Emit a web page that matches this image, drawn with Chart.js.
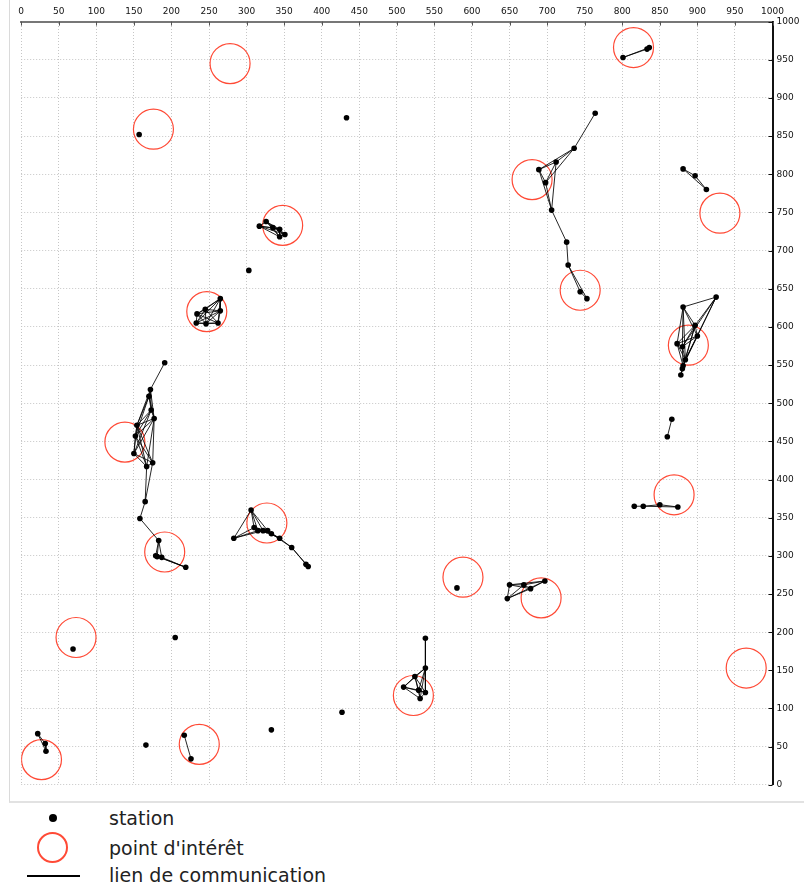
<!DOCTYPE html>
<html>
<head>
<meta charset="utf-8">
<script src="https://cdn.jsdelivr.net/npm/chart.js@4.4.0/dist/chart.umd.min.js"></script>
<style>
body { margin: 0; background: #fff; font-family: "DejaVu Sans", sans-serif; }
#wrap { position: relative; width: 804px; height: 891px; overflow: hidden; }
#frame { position: absolute; left: 9px; top: 0; width: 795px; height: 801px; border-left: 1px solid #dadada; border-bottom: 2px solid #e2e2e2; }
#mycanvas { position: absolute; left: 0; top: 0; }
.txt { position: absolute; left: 109px; font-size: 19px; line-height: 20px; color: #222; white-space: nowrap; }
.dot { position: absolute; left: 49px; top: 814px; width: 8px; height: 8px; border-radius: 50%; background: #000; }
.ring { position: absolute; left: 37px; top: 832px; width: 31px; height: 31px; box-sizing: border-box; border: 2px solid #ff4a36; border-radius: 50%; }
.bar { position: absolute; left: 27px; top: 875px; width: 53px; height: 2px; background: #000; }
</style>
</head>
<body>
<div id="wrap">
  <div id="frame"></div>
  <canvas id="mycanvas" width="804" height="806"></canvas>
  <div class="dot"></div><div class="txt" style="top:808px">station</div>
  <div class="ring"></div><div class="txt" style="top:838px">point d'intérêt</div>
  <div class="bar"></div><div class="txt" style="top:865px">lien de communication</div>
</div>
<script>
// stations (index = position in these arrays)
var stationX = [22, 32, 33, 69, 166, 205, 333, 427, 157, 303,
  433, 580, 217, 226, 538, 538, 524, 509, 529, 538,
  531, 650, 647, 669, 678, 697, 816, 828, 850, 874,
  866, 860, 881, 897, 912, 801, 833, 836, 764, 736,
  712, 689, 698, 706, 726, 728, 744, 753, 925, 881,
  897, 900, 873, 880, 884, 881, 880, 878, 317, 326,
  335, 344, 351, 344, 265, 245, 265, 234, 233, 246,
  262, 191, 172, 170, 173, 177, 154, 152, 150, 167,
  175, 165, 158, 183, 179, 181, 187, 219, 306, 283,
  310, 315, 322, 328, 333, 344, 360, 379, 382];
var stationY = [67, 54, 44, 178, 52, 193, 72, 95, 852, 674,
  874, 258, 65, 34, 192, 153, 142, 128, 124, 121,
  113, 262, 244, 262, 257, 267, 365, 365, 367, 364,
  479, 456, 807, 798, 780, 953, 964, 966, 880, 834,
  816, 806, 789, 753, 711, 681, 646, 637, 639, 626,
  602, 588, 578, 574, 557, 549, 545, 537, 732, 738,
  730, 728, 721, 718, 637, 623, 621, 617, 605, 604,
  605, 553, 518, 509, 491, 480, 471, 457, 434, 417,
  422, 371, 349, 320, 300, 299, 298, 285, 360, 323,
  337, 333, 333, 333, 329, 323, 311, 289, 286];

// points of interest (circle centres)
var poiX = [278, 815, 176, 680, 930, 348, 247, 744, 888, 138, 869, 327, 191, 588, 692, 73, 965, 522, 237, 27];
var poiY = [945, 966, 859, 793, 749, 733, 620, 648, 576, 449, 380, 343, 305, 272, 245, 193, 153, 117, 53, 33];

// communication links between stations
var links = [
  [0,1],[1,2],[0,2],
  [12,13],
  [14,15],[15,16],[15,17],[15,18],[15,19],[15,20],[16,17],[16,18],[16,19],[16,20],
  [17,18],[17,19],[17,20],[18,19],[18,20],[19,20],
  [21,22],[21,23],[21,24],[21,25],[22,23],[22,24],[22,25],[23,24],[23,25],[24,25],
  [26,27],[27,28],[28,29],[27,29],
  [30,31],
  [32,33],[33,34],[32,34],
  [35,36],[35,37],[36,37],
  [38,39],[39,40],[39,41],[39,42],[40,41],[40,42],[40,43],[41,42],[41,43],[42,43],
  [43,44],[44,45],[45,46],[45,47],[46,47],
  [48,49],[48,50],[48,51],[48,53],[48,54],[49,50],[49,51],[49,52],[49,53],[49,54],
  [50,51],[50,52],[50,53],[50,54],[50,55],[51,52],[51,53],[51,54],[51,55],[52,53],
  [52,54],[52,55],[53,54],[53,55],[54,55],[54,56],[55,56],[56,57],[55,57],
  [58,59],[58,60],[58,61],[58,62],[58,63],[59,60],[59,61],[59,62],[59,63],[60,61],
  [60,62],[60,63],[61,62],[61,63],[62,63],
  [64,65],[64,66],[64,67],[64,68],[64,69],[64,70],[65,66],[65,67],[65,68],[65,69],
  [65,70],[66,67],[66,68],[66,69],[66,70],[67,68],[67,69],[67,70],[68,69],[68,70],[69,70],
  [71,72],[72,73],[72,74],[72,75],[72,76],[73,74],[73,75],[73,76],[73,77],[74,75],
  [74,76],[74,77],[74,78],[75,76],[75,77],[75,78],[75,79],[75,80],[76,77],[76,78],
  [76,79],[76,80],[77,78],[77,79],[77,80],[78,79],[78,80],[79,80],[79,81],[80,81],
  [81,82],[82,83],[83,84],[83,85],[83,86],[84,85],[84,86],[85,86],[84,87],[85,87],[86,87],
  [88,89],[88,90],[88,91],[88,92],[88,93],[89,90],[89,91],[89,92],[90,91],[90,92],
  [90,93],[91,92],[91,93],[92,93],[92,94],[93,94],[91,94],[93,95],[94,95],[92,95],
  [95,96],[94,96],[96,97],[96,98],[97,98]
];

var stations = stationX.map(function (x, i) { return {x: x, y: stationY[i]}; });
var pois = poiX.map(function (x, i) { return {x: x, y: poiY[i]}; });

// each link is two points followed by a gap
var linkPoints = [];
links.forEach(function (l) {
  linkPoints.push(stations[l[0]], stations[l[1]], {x: NaN, y: NaN});
});

// small tick marks drawn inside the plot, on the top and right axes
var innerTicks = {
  id: 'innerTicks',
  afterDraw: function (chart) {
    var c = chart.ctx, a = chart.chartArea;
    var xs = chart.scales.x, ys = chart.scales.y;
    c.save();
    c.lineWidth = 1;
    c.strokeStyle = '#555';
    xs.ticks.forEach(function (t) {
      var px = Math.round(xs.getPixelForValue(t.value)) + 0.5;
      c.beginPath(); c.moveTo(px, a.top); c.lineTo(px, a.top + 4); c.stroke();
    });
    c.strokeStyle = '#111';
    ys.ticks.forEach(function (t) {
      var py = Math.round(ys.getPixelForValue(t.value)) + 0.5;
      c.beginPath(); c.moveTo(a.right - 4, py); c.lineTo(a.right, py); c.stroke();
    });
    c.restore();
  }
};

function plainLabel(v) { return String(v); }

var ctx = document.querySelector('#mycanvas');

var netChart = new Chart(ctx, {
  type: 'scatter',
  data: {
    datasets: [
      {
        label: 'station',
        data: stations,
        pointRadius: 2.8,
        backgroundColor: '#000',
        borderWidth: 0,
        order: 0
      },
      {
        label: 'lien de communication',
        data: linkPoints,
        showLine: true,
        spanGaps: false,
        pointRadius: 0,
        borderColor: 'rgba(0,0,0,0.85)',
        borderWidth: 1,
        order: 1
      },
      {
        label: "point d'intérêt",
        data: pois,
        pointRadius: 20,
        backgroundColor: 'rgba(0,0,0,0)',
        borderColor: '#ff4a36',
        borderWidth: 1.2,
        order: 2
      }
    ]
  },
  options: {
    responsive: false,
    animation: false,
    events: [],
    layout: { padding: { left: 16.7, top: 0, right: 0, bottom: 11.7 } },
    plugins: { legend: { display: false }, tooltip: { enabled: false } },
    scales: {
      x: {
        type: 'linear',
        position: 'top',
        min: 0, max: 1000,
        afterFit: function (s) { s.height = 21.6; },
        ticks: { stepSize: 50, autoSkip: false, maxRotation: 0, padding: 5, color: '#111',
          font: { family: 'DejaVu Sans', size: 9 }, callback: plainLabel },
        grid: { color: '#c6c6c6', drawTicks: false },
        border: { display: true, color: '#777', width: 2, dash: [1, 2] }
      },
      y: {
        type: 'linear',
        position: 'right',
        min: 0, max: 1000,
        afterFit: function (s) { s.width = 31.5; },
        ticks: { stepSize: 50, autoSkip: false, padding: 4, color: '#111',
          font: { family: 'DejaVu Sans', size: 9 }, callback: plainLabel },
        grid: { color: '#c6c6c6', drawTicks: false },
        border: { display: true, color: '#111', width: 2, dash: [1, 2] }
      }
    }
  },
  plugins: [innerTicks]
});
</script>
</body>
</html>
